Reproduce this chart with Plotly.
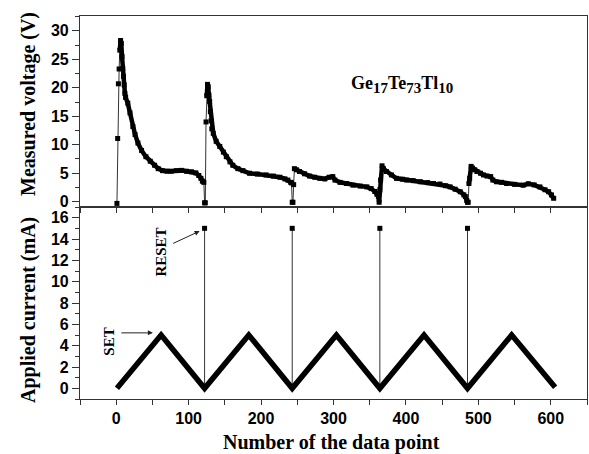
import plotly.graph_objects as go

# ---------------- data ----------------
volt_n = [1, 2, 3, 4, 5, 6, 7, 8, 9, 10, 11, 12, 13, 16, 19, 23, 26, 30, 35, 41, 47, 53, 58, 64, 70, 76, 83,
          90, 97, 104, 110, 114, 117, 119, 121, 122,
          123, 124, 125, 126, 127, 128, 129, 130, 131, 132, 134, 138, 143, 148, 152, 157, 161, 168, 175, 184,
          195, 207, 217, 226, 233, 237, 241, 242, 243,
          244, 245, 246, 249, 253, 260, 267, 274, 281, 288, 294, 299, 302, 309, 318, 327, 337, 346, 352, 357,
          360, 362, 363,
          364, 365, 367, 369, 373, 380, 387, 395, 401, 410, 420, 430, 438, 447, 455, 461, 468, 475, 480, 482,
          484, 485,
          486, 487, 488, 490, 492, 495, 498, 503, 507, 512, 517, 520, 525, 532, 539, 550, 562, 569, 577, 585,
          592, 597, 601, 604]
volt_V = [-0.3, 11.1, 20.7, 23.3, 26.6, 28.3, 27.8, 25.5, 23.4, 22.0, 20.5, 19.0, 18.3, 17.3, 15.6, 13.2, 11.8,
          10.3, 9.0, 7.9, 7.1, 6.4, 5.8, 5.45, 5.35, 5.35, 5.45, 5.5, 5.35, 5.25, 5.05, 4.6, 4.1, 3.6, 3.4, -0.2,
          -0.2, 14.0, 18.6, 20.6, 20.2, 18.7, 17.6, 15.8, 14.2, 12.8, 12.0, 10.6, 9.7, 8.7, 7.9, 7.0, 6.4, 5.8,
          5.45, 5.0, 4.85, 4.7, 4.5, 4.3, 4.0, 3.8, 3.4, 3.3, -0.1,
          -0.1, 3.0, 5.8, 5.6, 5.3, 4.9, 4.5, 4.3, 4.1, 4.0, 4.3, 4.4, 3.8, 3.4, 3.2, 2.9, 2.75, 2.6, 2.3, 1.8,
          1.3, 0.9, -0.1,
          2.1, 3.8, 6.3, 5.8, 5.3, 4.7, 4.1, 3.95, 3.8, 3.7, 3.5, 3.35, 3.2, 3.1, 2.8, 2.6, 2.2, 1.75, 1.2, 0.9,
          0.2, -0.1,
          -0.1, 3.2, 4.1, 6.2, 5.9, 5.6, 5.3, 5.0, 4.7, 4.5, 4.4, 3.8, 3.5, 3.4, 3.2, 3.05, 2.9, 3.15, 2.95, 2.6,
          2.1, 1.75, 1.2, 0.6]

# SET ramp vertices of the applied current (mA)
curr_n = [1, 62, 122, 183, 243, 304, 364, 425, 485, 546, 606]
curr_I = [0, 5, 0, 5, 0, 5, 0, 5, 0, 5, 0.1]

# RESET pulses
reset_n = [122, 243, 364, 485]
reset_I = [15, 15, 15, 15]

x_ticks = [0, 100, 200, 300, 400, 500, 600]

# ---------------- figure ----------------
fig = go.Figure()

# thick band of the voltage trace (broken where the signal jumps)
thick_x, thick_y = [], []
for i, (n, v) in enumerate(zip(volt_n, volt_V)):
    if i > 0 and abs(v - volt_V[i - 1]) > 2.5:
        thick_x.append(None)
        thick_y.append(None)
    thick_x.append(n)
    thick_y.append(v)

fig.add_trace(go.Scatter(x=volt_n, y=volt_V, mode="lines+markers",
                         line=dict(color="#333333", width=1),
                         marker=dict(symbol="square", size=5, color="black"),
                         xaxis="x2", yaxis="y2", showlegend=False))
fig.add_trace(go.Scatter(x=thick_x, y=thick_y, mode="lines",
                         line=dict(color="black", width=4.5),
                         xaxis="x2", yaxis="y2", showlegend=False))

# current
sx, sy = [], []
for n, i_ in zip(reset_n, reset_I):
    sx += [n, n, None]
    sy += [0, i_, None]
fig.add_trace(go.Scatter(x=sx, y=sy, mode="lines",
                         line=dict(color="#333333", width=1),
                         xaxis="x", yaxis="y", showlegend=False))
fig.add_trace(go.Scatter(x=reset_n, y=reset_I, mode="markers",
                         marker=dict(symbol="square", size=5, color="black"),
                         xaxis="x", yaxis="y", showlegend=False))
fig.add_trace(go.Scatter(x=curr_n, y=curr_I, mode="lines",
                         line=dict(color="black", width=5.5),
                         xaxis="x", yaxis="y", showlegend=False))

tickfont = dict(family="Liberation Sans, Arial", size=16, color="black", weight="bold")
axcol = "#333333"

fig.update_layout(
    width=589, height=454,
    margin=dict(l=80, r=2, t=16, b=55),
    paper_bgcolor="white", plot_bgcolor="white",
    xaxis=dict(domain=[0, 1], anchor="y", range=[-50, 650], automargin=False,
               tickvals=x_ticks, ticks="outside", ticklen=5, tickwidth=1.2, tickcolor=axcol,
               minor=dict(dtick=50, tick0=0, ticks="outside", ticklen=5, tickwidth=1.2, tickcolor=axcol),
               showline=True, linecolor=axcol, linewidth=1.2, mirror=True,
               showgrid=False, zeroline=False, tickfont=tickfont),
    yaxis=dict(domain=[0, 0.5013], anchor="x", range=[-1, 17], automargin=False,
               tickvals=[0, 2, 4, 6, 8, 10, 12, 14, 16],
               ticks="outside", ticklen=7, tickwidth=1.2, tickcolor=axcol,
               minor=dict(dtick=1, tick0=0, ticks="outside", ticklen=4, tickwidth=1.2, tickcolor=axcol),
               showline=True, linecolor=axcol, linewidth=1.2, mirror=True,
               showgrid=False, zeroline=False, tickfont=tickfont),
    xaxis2=dict(domain=[0, 1], anchor="y2", range=[-50, 650], matches="x", automargin=False,
                tickvals=x_ticks, ticks="outside", ticklen=5, tickwidth=1.2, tickcolor=axcol,
                minor=dict(dtick=50, tick0=0, ticks="outside", ticklen=5, tickwidth=1.2, tickcolor=axcol),
                showticklabels=False,
                showline=True, linecolor=axcol, linewidth=1.2, mirror=True,
                showgrid=False, zeroline=False),
    yaxis2=dict(domain=[0.5013, 1], anchor="x2", range=[-0.93, 32.6], automargin=False,
                tickvals=[0, 5, 10, 15, 20, 25, 30],
                ticks="outside", ticklen=7, tickwidth=1.2, tickcolor=axcol,
                minor=dict(dtick=2.5, tick0=0, ticks="outside", ticklen=4, tickwidth=1.2, tickcolor=axcol),
                showline=True, linecolor=axcol, linewidth=1.2, mirror=True,
                showgrid=False, zeroline=False, tickfont=tickfont),
)

serif_b = dict(family="Liberation Serif, Times New Roman", color="black", weight="bold")

# axis titles (placed in pixel terms relative to the plot area)
fig.add_annotation(xref="paper", yref="paper", x=-52 / 507, y=(399 - 104) / 383,
                   text="Measured voltage (V)", textangle=-90, showarrow=False,
                   xanchor="center", yanchor="middle", font=dict(size=20, **serif_b))
fig.add_annotation(xref="paper", yref="paper", x=-52 / 507, y=(399 - 310) / 383,
                   text="Applied current (mA)", textangle=-90, showarrow=False,
                   xanchor="center", yanchor="middle", font=dict(size=20, **serif_b))
fig.add_annotation(xref="paper", yref="paper", x=(331 - 80) / 507, y=(399 - 443) / 383,
                   text="Number of the data point", showarrow=False,
                   xanchor="center", yanchor="middle", font=dict(size=20, **serif_b))

fig.add_annotation(xref="paper", yref="paper", x=(402 - 80) / 507, y=(399 - 71) / 383,
                   text="Ge<sub><span style='font-size:15px'>17</span></sub>"
                        "Te<sub><span style='font-size:15px'>73</span></sub>"
                        "Tl<sub><span style='font-size:15px'>10</span></sub>",
                   showarrow=False, font=dict(size=18, **serif_b))
fig.add_annotation(xref="x", yref="y", x=62.2, y=12.75, text="RESET", textangle=-90,
                   showarrow=False, font=dict(size=15, **serif_b))
fig.add_annotation(xref="x", yref="y", x=-9.3, y=4.42, text="SET", textangle=-90,
                   showarrow=False, font=dict(size=15, **serif_b))
fig.add_annotation(xref="x", yref="y", x=115.2, y=14.74, ax=-28, ay=13, text="",
                   showarrow=True, arrowhead=2, arrowsize=1, arrowwidth=1, arrowcolor="#222")
fig.add_annotation(xref="x", yref="y", x=50.6, y=5.2, ax=-33, ay=0, text="",
                   showarrow=True, arrowhead=2, arrowsize=1, arrowwidth=1, arrowcolor="#222")

fig.write_html("out.html", config={"displayModeBar": False},
               post_script="document.body.style.margin='0';document.body.style.overflow='hidden';")
